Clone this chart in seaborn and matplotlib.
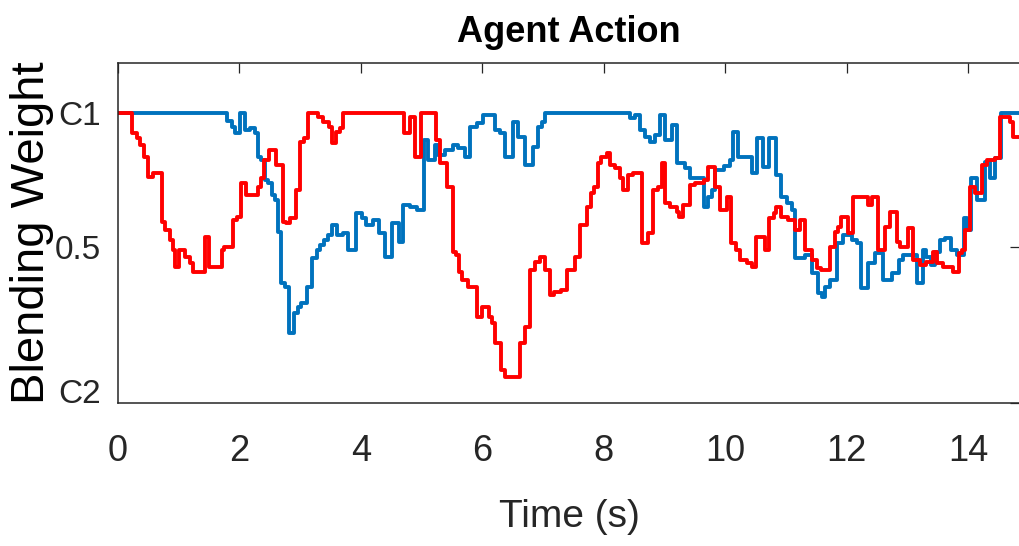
import numpy as np
import pandas as pd
import matplotlib
matplotlib.use("Agg")
import matplotlib.pyplot as plt
import seaborn as sns

# ---- data (step functions: value holds from each time until the next) ----
red_t = [0, 0.225, 0.31, 0.36, 0.43, 0.50, 0.58, 0.72, 0.77, 0.85, 0.91, 0.94, 1.01, 1.10, 1.19, 1.23,
         1.43, 1.50, 1.71, 1.74, 1.90, 1.96, 2.02, 2.11, 2.31, 2.35, 2.41, 2.49, 2.60, 2.71, 2.77, 2.83,
         2.93, 3.00, 3.06, 3.13, 3.30, 3.37, 3.48, 3.53, 3.59, 3.65, 3.71, 4.71, 4.81, 4.89, 4.99, 5.23,
         5.30, 5.41, 5.51, 5.56, 5.62, 5.67, 5.77, 5.91, 5.99, 6.10, 6.15, 6.21, 6.30, 6.37, 6.62, 6.70,
         6.78, 6.87, 6.94, 7.03, 7.11, 7.18, 7.30, 7.40, 7.53, 7.61, 7.72, 7.78, 7.83, 7.91, 7.96, 8.05,
         8.10, 8.18, 8.27, 8.32, 8.40, 8.48, 8.62, 8.73, 8.81, 8.89, 8.95, 9.00, 9.09, 9.20, 9.24, 9.31,
         9.42, 9.50, 9.64, 9.72, 9.83, 9.91, 10.02, 10.10, 10.18, 10.24, 10.35, 10.43, 10.51, 10.65,
         10.71, 10.80, 10.84, 10.92, 11.03, 11.14, 11.22, 11.31, 11.42, 11.50, 11.58, 11.72, 11.80, 11.85,
         11.91, 12.02, 12.10, 12.35, 12.42, 12.52, 12.63, 12.71, 12.82, 12.87, 13.01, 13.09, 13.20, 13.31,
         13.42, 13.48, 13.59, 13.75, 13.84, 13.89, 13.94, 14.03, 14.11, 14.22, 14.30, 14.44, 14.52, 14.68,
         14.74, 14.86]
red_v = [1.0, 0.923, 0.904, 0.879, 0.836, 0.761, 0.774, 0.593, 0.562, 0.525, 0.488, 0.425, 0.488, 0.463,
         0.438, 0.407, 0.537, 0.425, 0.488, 0.50, 0.60, 0.612, 0.736, 0.693, 0.724, 0.755, 0.823, 0.861,
         0.805, 0.593, 0.587, 0.606, 0.711, 0.892, 0.904, 0.998, 0.985, 0.966, 0.948, 0.886, 0.929, 0.942,
         1.0, 0.923, 0.985, 0.836, 1.0, 0.898, 0.811, 0.724, 0.481, 0.469, 0.407, 0.376, 0.351, 0.239,
         0.276, 0.239, 0.214, 0.139, 0.04, 0.015, 0.139, 0.201, 0.413, 0.444, 0.463, 0.413, 0.320, 0.332,
         0.338, 0.413, 0.463, 0.581, 0.649, 0.699, 0.724, 0.811, 0.836, 0.848, 0.805, 0.792, 0.755, 0.711,
         0.767, 0.774, 0.512, 0.55, 0.711, 0.724, 0.811, 0.662, 0.649, 0.63, 0.612, 0.655, 0.730, 0.736,
         0.749, 0.798, 0.724, 0.637, 0.687, 0.512, 0.488, 0.450, 0.438, 0.425, 0.537, 0.488, 0.606, 0.624,
         0.649, 0.612, 0.600, 0.562, 0.600, 0.488, 0.450, 0.419, 0.413, 0.50, 0.556, 0.575, 0.612, 0.55,
         0.687, 0.655, 0.687, 0.488, 0.575, 0.631, 0.519, 0.50, 0.569, 0.450, 0.432, 0.444, 0.481, 0.438,
         0.425, 0.407, 0.475, 0.488, 0.562, 0.724, 0.699, 0.805, 0.823, 0.829, 0.985, 0.966, 0.910, 0.910]

blue_t = [0, 1.79, 1.87, 1.93, 2.01, 2.09, 2.18, 2.26, 2.31, 2.36, 2.42, 2.47, 2.53, 2.58, 2.64, 2.69,
          2.75, 2.82, 2.89, 2.96, 3.02, 3.11, 3.19, 3.27, 3.33, 3.39, 3.46, 3.53, 3.60, 3.70, 3.79, 3.92,
          4.01, 4.09, 4.20, 4.29, 4.40, 4.51, 4.62, 4.70, 4.81, 4.92, 5.03, 5.11, 5.22, 5.27, 5.38, 5.52,
          5.60, 5.71, 5.80, 5.91, 6.01, 6.21, 6.29, 6.37, 6.51, 6.59, 6.70, 6.84, 6.92, 6.98, 7.03, 8.43,
          8.51, 8.60, 8.68, 8.76, 8.84, 8.92, 9.00, 9.12, 9.20, 9.33, 9.42, 9.64, 9.72, 9.78, 9.83, 9.98,
          10.07, 10.12, 10.21, 10.43, 10.52, 10.62, 10.72, 10.84, 10.92, 11.01, 11.09, 11.14, 11.31, 11.42,
          11.53, 11.59, 11.64, 11.72, 11.83, 11.94, 12.08, 12.16, 12.24, 12.35, 12.46, 12.60, 12.74, 12.85,
          12.93, 13.15, 13.26, 13.31, 13.39, 13.45, 13.53, 13.62, 13.72, 13.81, 13.92, 13.98, 14.04, 14.14,
          14.28, 14.35, 14.44, 14.54, 14.86]
blue_v = [1.0, 0.97, 0.948, 0.923, 1.0, 0.935, 0.942, 0.923, 0.836, 0.823, 0.749, 0.736, 0.693, 0.674,
          0.556, 0.363, 0.351, 0.177, 0.251, 0.276, 0.289, 0.351, 0.456, 0.488, 0.506, 0.525, 0.544, 0.581,
          0.544, 0.55, 0.488, 0.624, 0.606, 0.581, 0.60, 0.55, 0.463, 0.587, 0.519, 0.655, 0.649, 0.637,
          0.898, 0.823, 0.879, 0.842, 0.861, 0.879, 0.867, 0.836, 0.948, 0.960, 0.991, 0.935, 0.923, 0.836,
          0.966, 0.910, 0.805, 0.873, 0.948, 0.966, 1.0, 0.979, 0.991, 0.935, 0.910, 0.892, 0.917, 0.991,
          0.898, 0.955, 0.811, 0.792, 0.755, 0.649, 0.687, 0.711, 0.786, 0.80, 0.823, 0.929, 0.836, 0.774,
          0.904, 0.798, 0.904, 0.766, 0.687, 0.662, 0.637, 0.459, 0.47, 0.40, 0.326, 0.313, 0.351, 0.376,
          0.512, 0.544, 0.525, 0.512, 0.345, 0.438, 0.475, 0.376, 0.40, 0.45, 0.469, 0.363, 0.488, 0.463,
          0.432, 0.481, 0.525, 0.531, 0.488, 0.469, 0.606, 0.562, 0.755, 0.674, 0.817, 0.755, 0.829, 1.0, 1.0]

x_ticks = [0, 2, 4, 6, 8, 10, 12, 14]
y_ticks = [-0.083, 0.5, 1.0]
y_tick_labels = ["C2", "0.5", "C1"]

df = pd.concat([
    pd.DataFrame({"t": blue_t, "w": blue_v, "series": "blue"}),
    pd.DataFrame({"t": red_t, "w": red_v, "series": "red"}),
], ignore_index=True)

sns.set_theme(style="white")
fam = ["Liberation Sans", "DejaVu Sans"]
plt.rcParams["font.family"] = fam

fig = plt.figure(figsize=(10.19, 5.46), dpi=100)
ax = fig.add_axes([118 / 1019, 1 - 403 / 546, (1020 - 118) / 1019, (403 - 63) / 546])

sns.lineplot(data=df, x="t", y="w", hue="series", hue_order=["blue", "red"],
             palette={"blue": "#0072BD", "red": "#FF0000"}, estimator=None, sort=False,
             drawstyle="steps-post", linewidth=2.8, legend=False, ax=ax)

ax.set_xlim(0, 14.85)
ax.set_ylim(-0.083, 1.185)
ax.set_xticks(x_ticks)
ax.set_xticklabels([str(v) for v in x_ticks])
ax.set_yticks(y_ticks)
ax.set_yticklabels(y_tick_labels)

for s in ax.spines.values():
    s.set_visible(True)
    s.set_color("#262626")
    s.set_linewidth(1.1)

ax.tick_params(axis="both", which="major", direction="in", length=7, width=0.9, color="#262626",
               top=True, right=True, labelcolor="#262626")
ax.tick_params(axis="x", labelsize=26, pad=22)
ax.tick_params(axis="y", labelsize=24, pad=12)
ax.get_yticklabels()[0].set_va("baseline")

ax.set_xlabel("Time (s)", fontsize=28, color="#262626", labelpad=22)
ax.set_ylabel("Blending Weight", fontsize=34, color="#000000")
ax.yaxis.set_label_coords(-0.071, 0.5)
ax.set_title("Agent Action", fontsize=26, fontweight="bold", color="#000000", pad=15)
ax.grid(False)

fig.savefig("out.png", dpi=100)
